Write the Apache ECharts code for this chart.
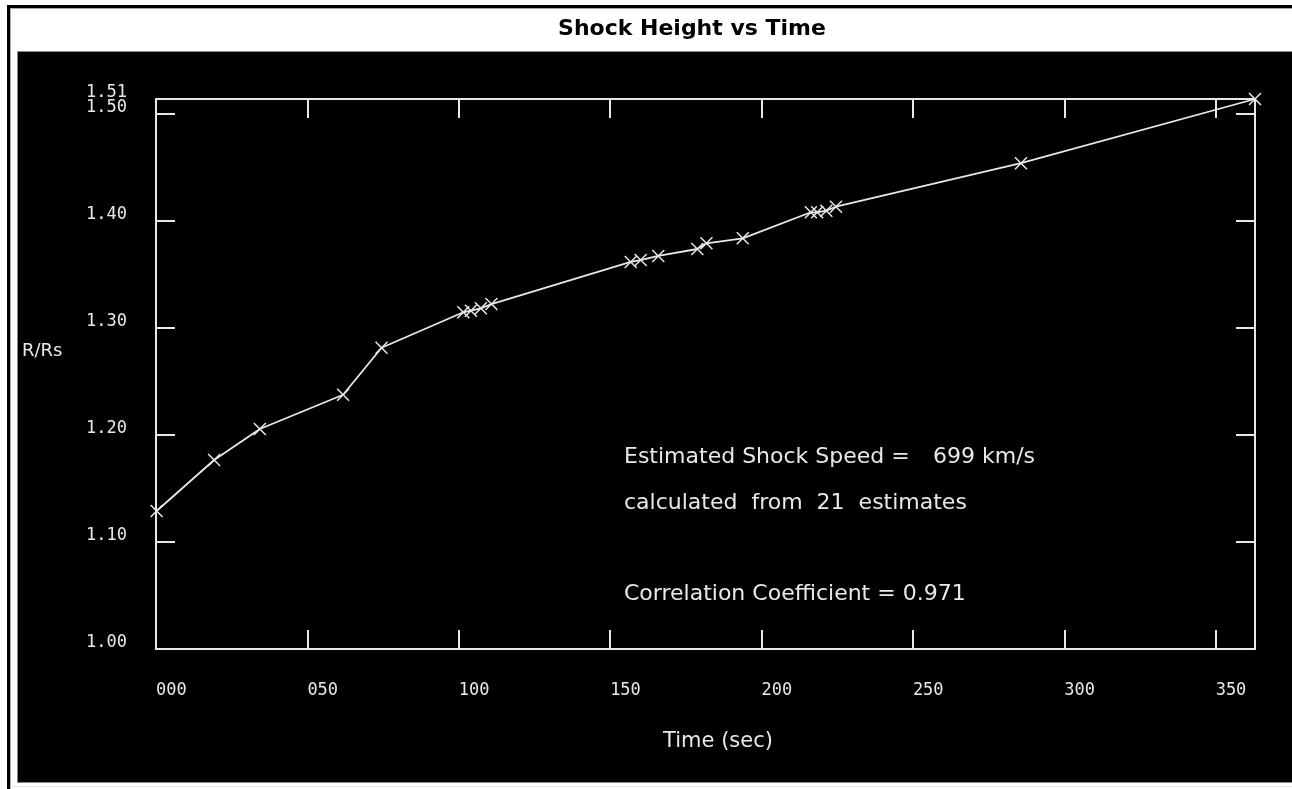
<!DOCTYPE html>
<html>
<head>
<meta charset="utf-8">
<script src="https://cdn.jsdelivr.net/npm/echarts@6/dist/echarts.min.js"></script>
<style>
  html, body { margin: 0; padding: 0; background: #fff; }
  #chart { width: 1292px; height: 789px; }
</style>
</head>
<body>
<div id="chart"></div>
<script>
// ---- data ----
const times = [0.2, 19.2, 34.3, 61.8, 74.5, 101.5, 104.0, 107.3, 110.8, 156.8, 160.1, 165.9, 178.8, 181.8, 193.8, 216.3, 218.4, 221.4, 224.6, 285.7, 363.0];
const rValues = [1.1289, 1.1765, 1.2055, 1.2375, 1.2814, 1.3145, 1.3160, 1.3182, 1.3222, 1.3615, 1.3633, 1.3671, 1.3736, 1.3789, 1.3836, 1.4079, 1.4079, 1.4094, 1.4131, 1.4537, 1.5137];
const xRange = [0, 363];
const yRange = [1.00, 1.5137];
const xTickStep = 50;
const yTickStep = 0.1;
const titleText = 'Shock Height vs Time';
const xTitle = 'Time (sec)';
const yTitle = 'R/Rs';
const noteLines = ['Estimated Shock Speed =', 'calculated  from  21  estimates', 'Correlation Coefficient = 0.971'];
const speedText = '699 km/s';

const fg = '#e8e8e8';
const monoFont = 'DejaVu Sans Mono';
const sansFont = 'DejaVu Sans';

const chart = echarts.init(document.getElementById('chart'), null, { renderer: 'canvas' });

const axisCommon = {
  type: 'value',
  splitLine: { show: false },
  axisLine: { show: true, onZero: false, lineStyle: { color: fg, width: 2 } },
  axisTick: { show: true, inside: true, length: 19, lineStyle: { color: fg, width: 2 } }
};

const yLabelStyle = {
  show: true, color: fg, fontFamily: monoFont, fontSize: 17,
  margin: 29, verticalAlign: 'bottom', lineHeight: 12, hideOverlap: false
};

const option = {
  animation: false,
  backgroundColor: '#000',
  title: {
    text: titleText,
    left: 687,
    top: 13,
    textAlign: 'center',
    z: 20,
    textStyle: { color: '#000', fontFamily: sansFont, fontWeight: 'bold', fontSize: 22 }
  },
  grid: { left: 156, top: 99, width: 1099, height: 550, containLabel: false },
  xAxis: [
    Object.assign({}, axisCommon, {
      position: 'bottom',
      min: xRange[0], max: xRange[1], interval: xTickStep,
      axisLabel: {
        show: true, color: fg, fontFamily: monoFont, fontSize: 17,
        align: 'left', margin: 33, showMaxLabel: false, showMinLabel: true,
        formatter: v => (v % xTickStep === 0 ? String(Math.round(v)).padStart(3, '0') : '')
      }
    }),
    Object.assign({}, axisCommon, {
      position: 'top',
      min: xRange[0], max: xRange[1], interval: xTickStep,
      axisLabel: { show: false }
    })
  ],
  yAxis: [
    Object.assign({}, axisCommon, {
      position: 'left',
      min: yRange[0], max: yRange[1], interval: yTickStep,
      axisLabel: Object.assign({}, yLabelStyle, {
        showMaxLabel: false, showMinLabel: true,
        formatter: v => v.toFixed(2)
      })
    }),
    Object.assign({}, axisCommon, {
      position: 'right',
      min: yRange[0], max: yRange[1], interval: yTickStep,
      axisLabel: { show: false }
    }),
    // carries only the label of the top of the range (1.51)
    {
      type: 'value',
      position: 'left',
      min: yRange[0], max: yRange[1], interval: yTickStep,
      splitLine: { show: false },
      axisLine: { show: false },
      axisTick: { show: false },
      axisLabel: Object.assign({}, yLabelStyle, {
        showMaxLabel: true, showMinLabel: false,
        formatter: v => (Math.abs(v - yRange[1]) < 1e-9 ? v.toFixed(2) : '')
      })
    }
  ],
  series: [{
    type: 'line',
    xAxisIndex: 0,
    yAxisIndex: 0,
    data: times.map((t, i) => [t, rValues[i]]),
    showSymbol: true,
    showAllSymbol: true,
    symbol: 'path://M0,0L10,10M10,0L0,10',
    symbolSize: 12,
    lineStyle: { color: fg, width: 1.8 },
    itemStyle: { color: fg, borderColor: fg, borderWidth: 1.5 },
    emphasis: { disabled: true },
    z: 5
  }],
  graphic: [
    // white frame around the black panel
    { type: 'rect', shape: { x: 0, y: 0, width: 1292, height: 52 }, style: { fill: '#fff' }, z: 1 },
    { type: 'rect', shape: { x: 0, y: 0, width: 18, height: 789 }, style: { fill: '#fff' }, z: 1 },
    { type: 'rect', shape: { x: 0, y: 782, width: 1292, height: 7 }, style: { fill: '#fff' }, z: 1 },
    { type: 'rect', shape: { x: 7, y: 5, width: 1285, height: 3 }, style: { fill: '#000' }, z: 2 },
    { type: 'rect', shape: { x: 7, y: 5, width: 3, height: 784 }, style: { fill: '#000' }, z: 2 },
    { type: 'rect', shape: { x: 10, y: 8, width: 1282, height: 1 }, style: { fill: '#aaa' }, z: 2 },
    { type: 'rect', shape: { x: 10, y: 8, width: 1, height: 781 }, style: { fill: '#aaa' }, z: 2 },
    { type: 'rect', shape: { x: 17, y: 51, width: 1275, height: 1 }, style: { fill: '#888' }, z: 2 },
    { type: 'rect', shape: { x: 17, y: 51, width: 1, height: 732 }, style: { fill: '#888' }, z: 2 },
    { type: 'rect', shape: { x: 17, y: 782, width: 1275, height: 1 }, style: { fill: '#888' }, z: 2 },
    { type: 'rect', shape: { x: 10, y: 786, width: 1282, height: 1 }, style: { fill: '#e4e4e4' }, z: 2 },
    // axis titles
    { type: 'text', x: 22, y: 351, z: 3,
      style: { text: yTitle, fill: fg, font: '18px "DejaVu Sans"', align: 'left', verticalAlign: 'middle' } },
    { type: 'text', x: 718, y: 742, z: 3,
      style: { text: xTitle, fill: fg, font: '21px "DejaVu Sans"', align: 'center', verticalAlign: 'middle' } },
    // annotation
    { type: 'text', x: 624, y: 457, z: 3,
      style: { text: noteLines[0], fill: fg, font: '22px "DejaVu Sans"', align: 'left', verticalAlign: 'middle' } },
    { type: 'text', x: 933, y: 457, z: 3,
      style: { text: speedText, fill: fg, font: '22px "DejaVu Sans"', align: 'left', verticalAlign: 'middle' } },
    { type: 'text', x: 624, y: 503, z: 3,
      style: { text: noteLines[1], fill: fg, font: '22px "DejaVu Sans"', align: 'left', verticalAlign: 'middle' } },
    { type: 'text', x: 624, y: 594, z: 3,
      style: { text: noteLines[2], fill: fg, font: '22px "DejaVu Sans"', align: 'left', verticalAlign: 'middle' } }
  ]
};

chart.setOption(option);
</script>
</body>
</html>
